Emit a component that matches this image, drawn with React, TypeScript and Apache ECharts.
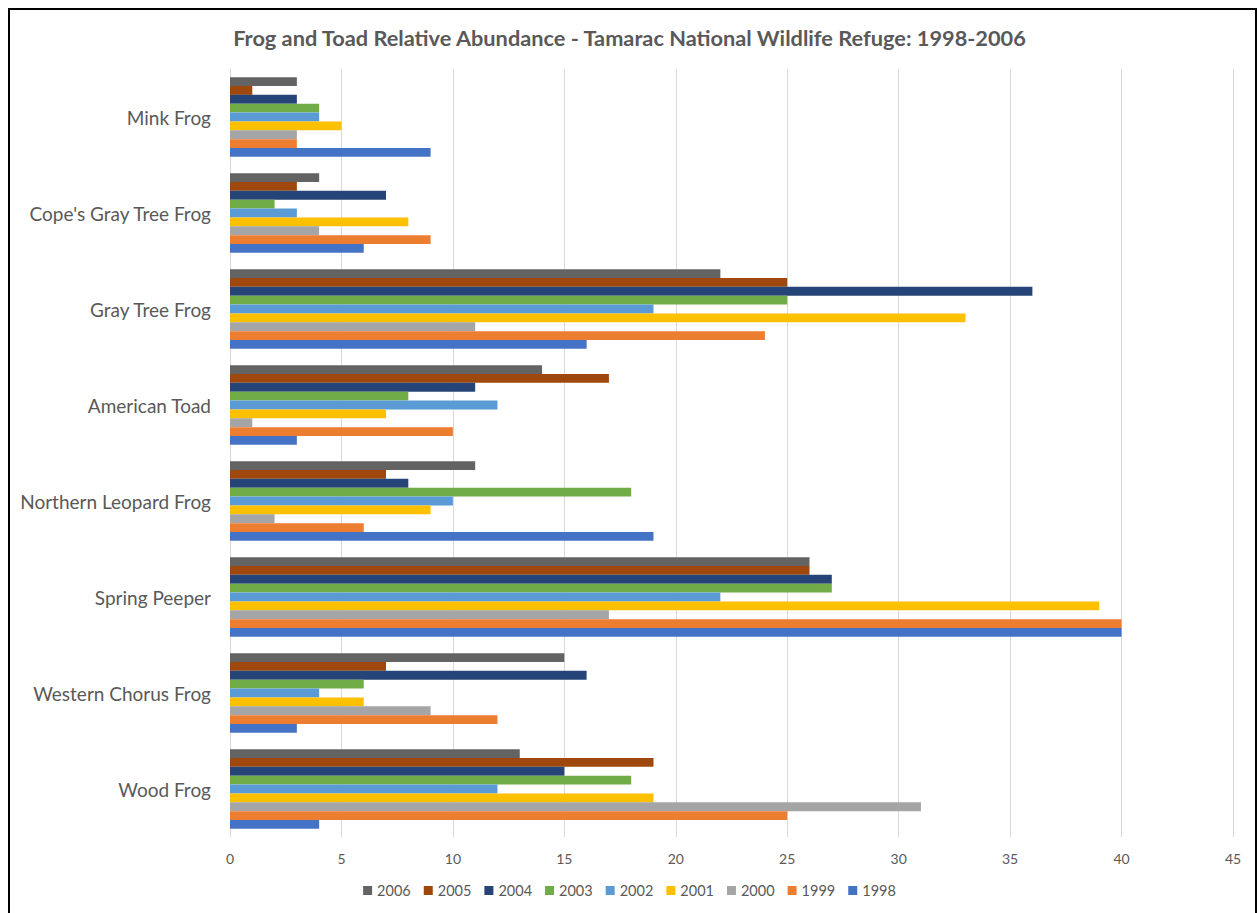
import React, { useEffect, useRef } from "react";
import * as echarts from "echarts";

const categories = [
  "Mink Frog",
  "Cope's Gray Tree Frog",
  "Gray Tree Frog",
  "American Toad",
  "Northern Leopard Frog",
  "Spring Peeper",
  "Western Chorus Frog",
  "Wood Frog",
];

const years = ["2006", "2005", "2004", "2003", "2002", "2001", "2000", "1999", "1998"];

const v2006 = [3, 4, 22, 14, 11, 26, 15, 13];
const v2005 = [1, 3, 25, 17, 7, 26, 7, 19];
const v2004 = [3, 7, 36, 11, 8, 27, 16, 15];
const v2003 = [4, 2, 25, 8, 18, 27, 6, 18];
const v2002 = [4, 3, 19, 12, 10, 22, 4, 12];
const v2001 = [5, 8, 33, 7, 9, 39, 6, 19];
const v2000 = [3, 4, 11, 1, 2, 17, 9, 31];
const v1999 = [3, 9, 24, 10, 6, 40, 12, 25];
const v1998 = [9, 6, 16, 3, 19, 40, 3, 4];

const seriesValues = [v2006, v2005, v2004, v2003, v2002, v2001, v2000, v1999, v1998];
const colors = ["#636363", "#9E480E", "#264478", "#70AD47", "#5B9BD5", "#FFC000", "#A5A5A5", "#ED7D31", "#4472C4"];

const FONT = "Lato, 'Open Sans', sans-serif";

export default function App() {
  const ref = useRef<HTMLDivElement>(null);
  useEffect(() => {
    if (!ref.current) return;
    const chart = echarts.init(ref.current, undefined, { renderer: "svg" });
    chart.setOption({
      animation: false,
      backgroundColor: "#ffffff",
      title: {
        text: "Frog and Toad Relative Abundance - Tamarac National Wildlife Refuge: 1998-2006",
        left: "center",
        top: 22,
        textStyle: { fontFamily: FONT, fontSize: 21.75, fontWeight: "bold", color: "#595959" },
      },
      legend: {
        bottom: 10,
        left: "center",
        itemWidth: 9,
        itemHeight: 9,
        itemGap: 13,
        icon: "rect",
        textStyle: { fontFamily: FONT, fontSize: 14.5, color: "#595959" },
        data: years,
      },
      grid: { left: 230, right: 26, top: 69, bottom: 76, containLabel: false },
      xAxis: {
        type: "value",
        min: 0,
        max: 45,
        interval: 5,
        axisLine: { show: false },
        axisTick: { show: false },
        splitLine: { show: true, lineStyle: { color: "#D9D9D9", width: 1 } },
        axisLabel: { fontFamily: FONT, fontSize: 14, color: "#595959", margin: 14 },
      },
      yAxis: {
        type: "category",
        data: categories,
        inverse: true,
        axisLine: { show: true, lineStyle: { color: "#D9D9D9" } },
        axisTick: { show: false },
        axisLabel: { fontFamily: FONT, fontSize: 19, color: "#595959", margin: 19 },
      },
      series: years.map((y, i) => ({
        name: y,
        type: "bar",
        data: seriesValues[i],
        barGap: "0%",
        barCategoryGap: "17%",
        itemStyle: { color: colors[i] },
      })),
    });
    return () => chart.dispose();
  }, []);
  return (
    <div style={{ position: "absolute", left: 0, top: 0, width: 1259, height: 913, overflow: "hidden" }}>
      <div ref={ref} style={{ position: "absolute", left: 0, top: 0, width: 1259, height: 913 }} />
      <div
        style={{
          position: "absolute",
          left: 8,
          top: 8,
          width: 1249,
          height: 930,
          border: "2px solid #000",
          boxSizing: "border-box",
          pointerEvents: "none",
        }}
      />
    </div>
  );
}
